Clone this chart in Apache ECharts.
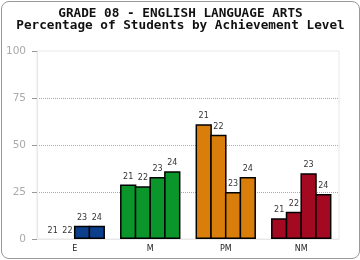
<!DOCTYPE html>
<html lang="en">

<head>
    <meta charset="UTF-8">
    <title>Grade 08 ELA</title>
    <script src="https://cdn.jsdelivr.net/npm/echarts@6/dist/echarts.min.js"></script>
</head>

<style>
    body {
        margin: 0;
        background: #fff;
    }

    #chart {
        position: absolute;
        left: 1px;
        top: 1px;
        width: 357px;
        height: 256px;
        border: 1px solid #999;
        border-radius: 8px;
    }
</style>

<body>
    <div id="chart"></div>
</body>

</html>

<script>
    // achievement levels
    let levels = ['E', 'M', 'PM', 'NM'];
    let levelColors = ['#0b3f8c', '#0b962b', '#d97e0b', '#a30a22'];
    let years = ['21', '22', '23', '24'];

    // percentage per level, one array per year
    let y21 = [0, 29, 61, 11];
    let y22 = [0, 28, 55.5, 14.5];
    let y23 = [7, 33, 25, 35];
    let y24 = [7, 36, 33, 24];
    let yearValues = [y21, y22, y23, y24];

    let yTicks = [0, 25, 50, 75, 100];

    var myChart = echarts.init(document.getElementById('chart'));

    let series = years.map(function (yr, i) {
        return {
            name: yr,
            type: 'bar',
            barGap: '-10%', // neighbours share one outline
            barCategoryGap: '20%',
            // no outline on empty bars
            data: yearValues[i].map(function (v, j) {
                return {
                    value: v,
                    itemStyle: {
                        color: levelColors[j],
                        borderWidth: v > 0 ? 1.5 : 0
                    }
                };
            }),
            itemStyle: {
                borderColor: '#000'
            },
            label: {
                show: true,
                position: 'top',
                distance: 4,
                formatter: '{a}',
                fontSize: 8,
                fontFamily: 'DejaVu Sans',
                color: '#333'
            }
        };
    });

    option = {
        animation: false,
        title: {
            text: 'GRADE 08 - ENGLISH LANGUAGE ARTS\nPercentage of Students by Achievement Level',
            left: 'center',
            top: 1,
            textStyle: {
                fontFamily: 'DejaVu Sans Mono',
                fontWeight: 'bold',
                fontSize: 12.7,
                lineHeight: 12,
                color: '#111'
            }
        },
        grid: {
            left: 35,
            right: 20,
            top: 49,
            bottom: 19,
            show: true,
            borderColor: '#e8e8e8',
            borderWidth: 1
        },
        xAxis: {
            type: 'category',
            data: levels,
            axisLine: { lineStyle: { color: '#e8e8e8' } },
            axisTick: { show: false },
            axisLabel: {
                fontSize: 8,
                fontFamily: 'DejaVu Sans',
                color: '#222',
                margin: 6
            }
        },
        yAxis: {
            type: 'value',
            min: yTicks[0],
            max: yTicks[yTicks.length - 1],
            interval: 25,
            axisLine: { show: true, lineStyle: { color: '#e8e8e8' } },
            axisTick: { show: true, length: 5, lineStyle: { color: '#999' } },
            axisLabel: {
                fontSize: 10.5,
                fontFamily: 'DejaVu Sans',
                color: '#aaa',
                margin: 11
            },
            splitLine: {
                lineStyle: {
                    color: ['#aaa', '#aaa', '#aaa', '#aaa', 'rgba(0,0,0,0)'],
                    type: [1, 1]
                }
            }
        },
        series: series
    };

    myChart.setOption(option);
</script>
